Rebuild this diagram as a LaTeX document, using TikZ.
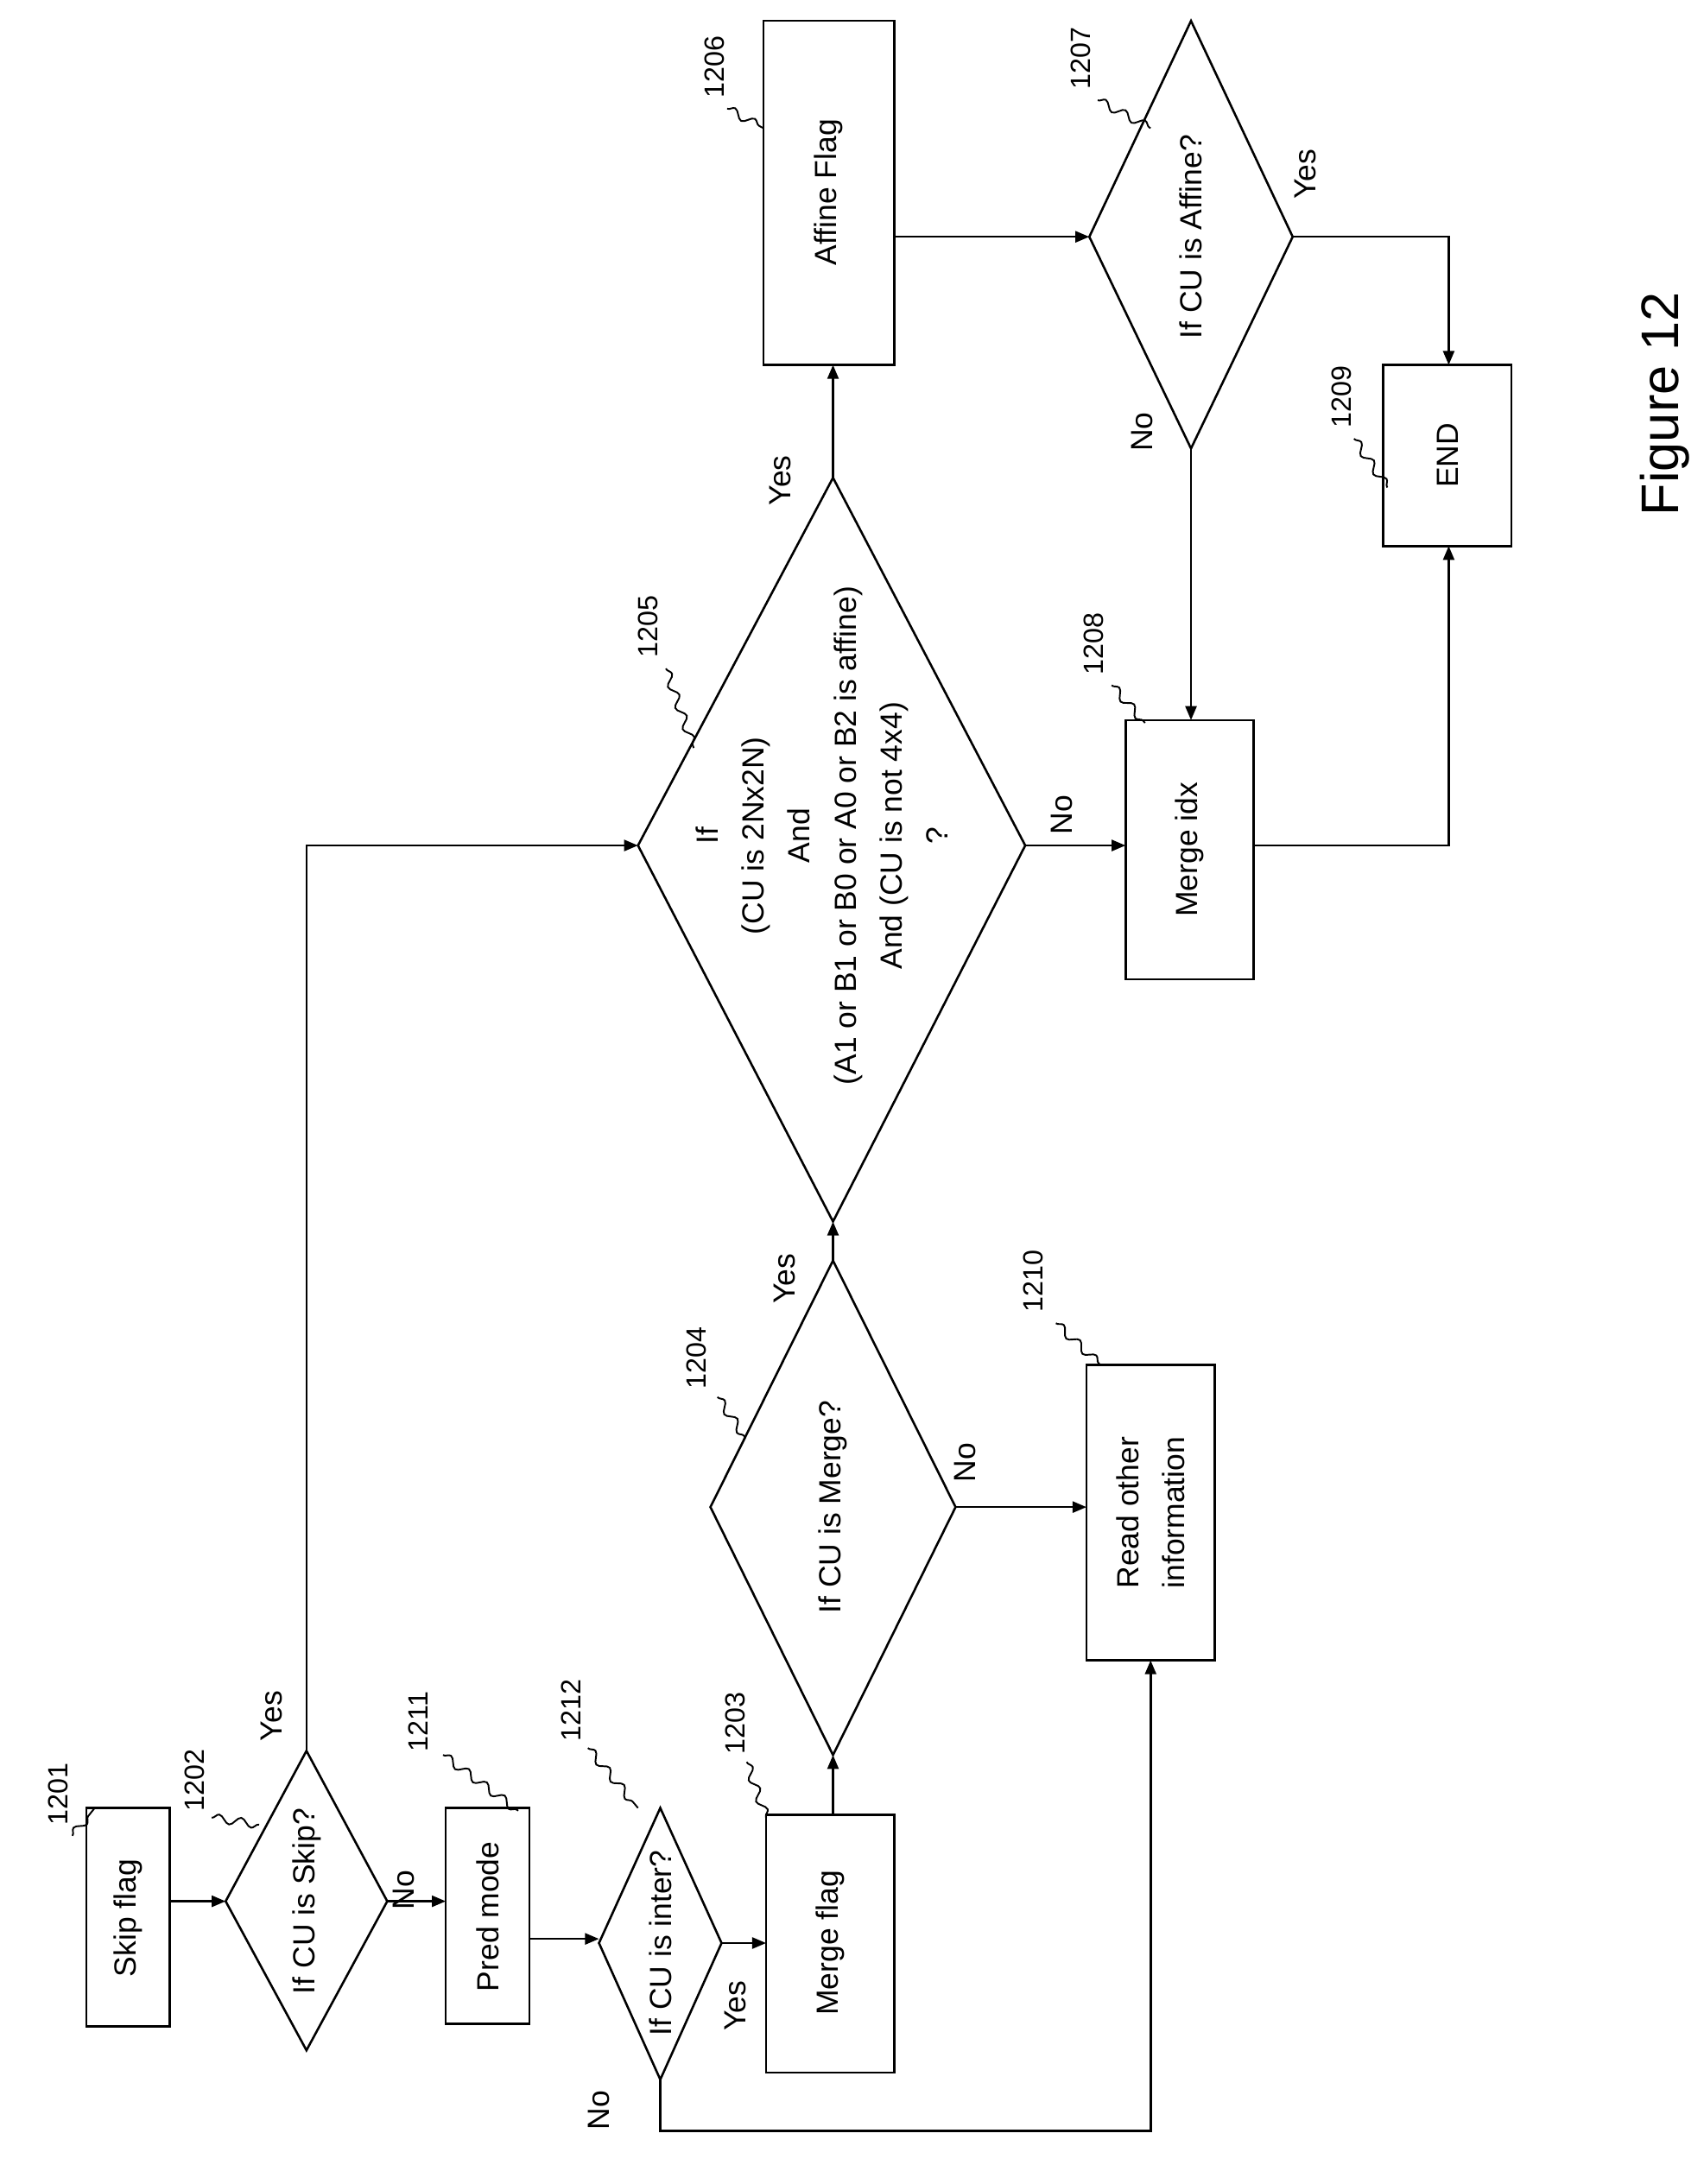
\documentclass[tikz,border=0pt]{standalone}
\usepackage{fontspec}
\setmainfont{Liberation Sans}
\usetikzlibrary{arrows.meta,decorations.pathmorphing}
\begin{document}
\begin{tikzpicture}[x=0.5pt,y=-0.5pt,
  line width=0.8pt,
  box/.style={draw,line width=0.8pt,inner sep=0},
  txt/.style={rotate=90,font=\fontsize{11}{16.5}\selectfont,align=center},
  lab/.style={rotate=90,font=\fontsize{10}{12}\selectfont},
  arr/.style={-{Triangle[length=5pt,width=4pt]}},
  sq/.style={decorate,decoration={snake,amplitude=1.5pt,segment length=8pt},line width=0.6pt}]
\useasboundingbox (0,0) rectangle (1223,1568);
% boxes
\draw[box] (62,1298) rectangle (122,1455);
\node[txt] (t1201) at (92,1377) {Skip flag};
\draw[box] (320,1298) rectangle (380,1453);
\node[txt] (t1211) at (350,1376) {Pred mode};
\draw[box] (550,1303) rectangle (642,1488);
\node[txt] (t1203) at (596,1395) {Merge flag};
\draw[box] (780,980) rectangle (872,1192);
\node[txt] (t1210) at (826,1086) {Read other\\information};
\draw[box] (808,517) rectangle (900,703);
\node[txt] (t1208) at (854,610) {Merge idx};
\draw[box] (548,15) rectangle (642,262);
\node[txt] (t1206) at (595,138) {Affine Flag};
\draw[box] (993,262) rectangle (1085,392);
\node[txt] (t1209) at (1039,327) {END};
% diamonds
\coordinate (d2l) at (162,1365); \coordinate (d2r) at (278,1365);
\coordinate (d2t) at (220,1257); \coordinate (d2b) at (220,1472);
\draw (d2l)--(d2t)--(d2r)--(d2b)--cycle;
\node[txt] (t1202) at (220,1365) {If CU is Skip?};
\coordinate (d12l) at (430,1395); \coordinate (d12r) at (518,1395);
\coordinate (d12t) at (474,1298); \coordinate (d12b) at (474,1493);
\draw (d12l)--(d12t)--(d12r)--(d12b)--cycle;
\node[txt] (t1212) at (474,1395) {If CU is inter?};
\coordinate (d4l) at (510,1082); \coordinate (d4r) at (686,1082);
\coordinate (d4t) at (598,905); \coordinate (d4b) at (598,1260);
\draw (d4l)--(d4t)--(d4r)--(d4b)--cycle;
\node[txt] (t1204) at (598,1082) {If CU is Merge?};
\coordinate (d5l) at (458,607); \coordinate (d5r) at (736,607);
\coordinate (d5t) at (598,343); \coordinate (d5b) at (598,877);
\draw (d5l)--(d5t)--(d5r)--(d5b)--cycle;
\node[txt] (t1205) at (590,600) {If\\(CU is 2Nx2N)\\And\\(A1 or B1 or B0 or A0 or B2 is affine)\\And (CU is not 4x4)\\?};
\coordinate (d7l) at (782,170); \coordinate (d7r) at (928,170);
\coordinate (d7t) at (855,15); \coordinate (d7b) at (855,322);
\draw (d7l)--(d7t)--(d7r)--(d7b)--cycle;
\node[txt] (t1207) at (855,170) {If CU is Affine?};
% connector anchors
\coordinate (b1r) at (122,1365); \coordinate (b11l) at (320,1365);
\coordinate (b11r) at (380,1392); \coordinate (d12l2) at (430,1392);
\coordinate (b3l) at (550,1395); \coordinate (b3t) at (598,1303);
\coordinate (b10l) at (780,1082); \coordinate (b10b) at (826,1192);
\coordinate (b6b) at (598,262); \coordinate (b6r) at (642,170);
\coordinate (b8l) at (808,607); \coordinate (b8t) at (855,517); \coordinate (b8r) at (900,607);
\coordinate (b9t) at (1040,262); \coordinate (b9b) at (1040,392);
% connectors
\draw[arr] (b1r)--(d2l);
\draw[arr] (d2r)--(b11l);
\draw[arr] (d2t)|-(d5l);
\draw[arr] (b11r)--(d12l2);
\draw[arr] (d12r)--(b3l);
\draw[arr] (d12b)--(474,1530)-|(b10b);
\draw[arr] (b3t)--(d4b);
\draw[arr] (d4r)--(b10l);
\draw[arr] (d4t)--(d5b);
\draw[arr] (d5t)--(b6b);
\draw[arr] (d5r)--(b8l);
\draw[arr] (b6r)--(d7l);
\draw[arr] (d7r)-|(b9t);
\draw[arr] (d7b)--(b8t);
\draw[arr] (b8r)-|(b9b);
% branch labels
\node[txt] (y1) at (195,1232) {Yes};
\node[txt] (n1) at (290,1357) {No};
\node[txt] (y2) at (528,1440) {Yes};
\node[txt] (n2) at (430,1515) {No};
\node[txt] (y3) at (563,918) {Yes};
\node[txt] (n3) at (693,1050) {No};
\node[txt] (y4) at (560,345) {Yes};
\node[txt] (n4) at (762,585) {No};
\node[txt] (y5) at (937,125) {Yes};
\node[txt] (n5) at (820,310) {No};
% reference numbers
\node[lab] (r1201) at (42,1288) {1201};
\draw[sq] (52,1318)--(68,1298);
\node[lab] (r1202) at (140,1278) {1202};
\draw[sq] (152,1305)--(186,1310);
\node[lab] (r1211) at (300,1236) {1211};
\draw[sq] (318,1260)--(372,1300);
\node[lab] (r1212) at (410,1228) {1212};
\draw[sq] (422,1255)--(458,1298);
\node[lab] (r1203) at (528,1237) {1203};
\draw[sq] (536,1265)--(550,1305);
\node[lab] (r1204) at (500,975) {1204};
\draw[sq] (515,1003)--(535,1032);
\node[lab] (r1210) at (742,920) {1210};
\draw[sq] (758,950)--(790,980);
\node[lab] (r1205) at (465,450) {1205};
\draw[sq] (478,480)--(498,537);
\node[lab] (r1208) at (785,462) {1208};
\draw[sq] (798,492)--(822,519);
\node[lab] (r1206) at (513,48) {1206};
\draw[sq] (522,78)--(548,92);
\node[lab] (r1207) at (776,42) {1207};
\draw[sq] (788,72)--(826,92);
\node[lab] (r1209) at (963,285) {1209};
\draw[sq] (972,315)--(996,350);
\node[rotate=90,font=\fontsize{19}{22}\selectfont] (fig) at (1195,290) {Figure 12};
\end{tikzpicture}
\end{document}
